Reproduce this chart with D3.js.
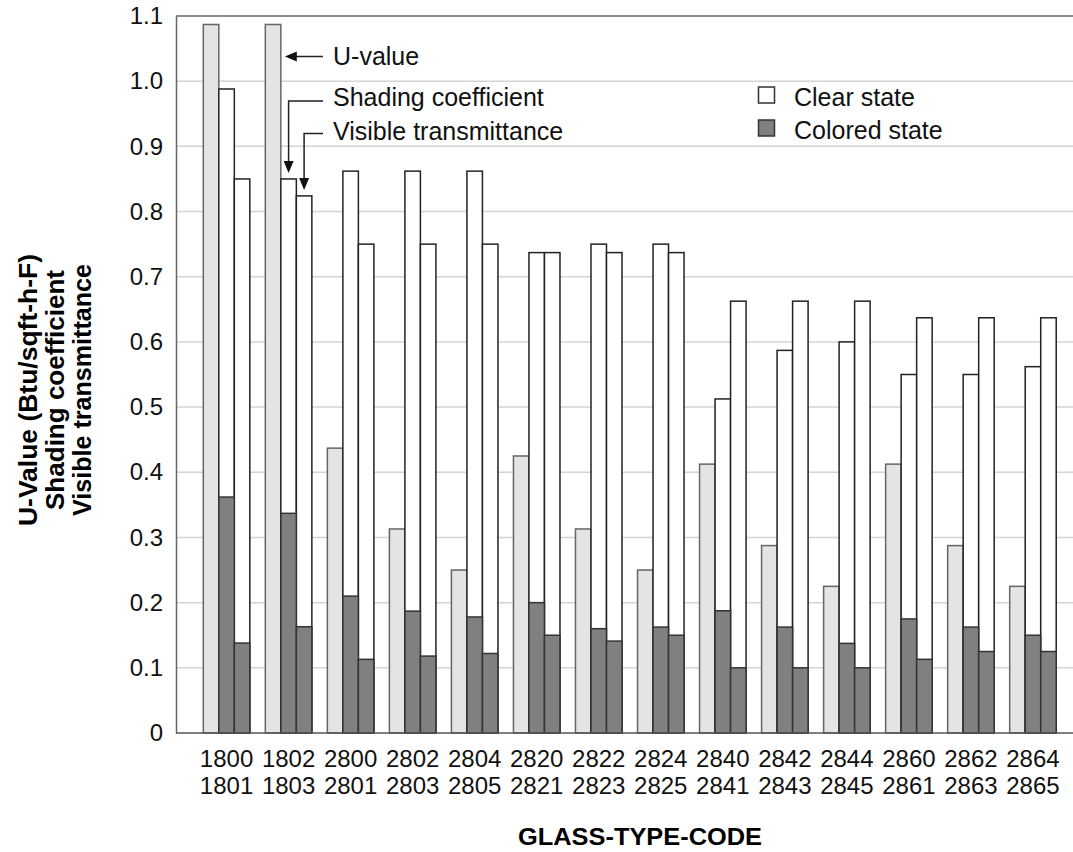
<!DOCTYPE html>
<html>
<head>
<meta charset="utf-8">
<script src="https://cdn.jsdelivr.net/npm/d3@7"></script>
<style>
  body { margin: 0; background: #fff; }
  svg { display: block; font-family: "Liberation Sans", Arial, sans-serif; }
</style>
</head>
<body>
<div id="chart"></div>
<script>
// glass type codes (two rows of tick labels)
var codesTop    = ["1800","1802","2800","2802","2804","2820","2822","2824","2840","2842","2844","2860","2862","2864"];
var codesBottom = ["1801","1803","2801","2803","2805","2821","2823","2825","2841","2843","2845","2861","2863","2865"];

// values
var uValue    = [1.087,1.087,0.437,0.313,0.25,0.425,0.313,0.25,0.4125,0.2875,0.225,0.4125,0.2875,0.225];
var scClear   = [0.988,0.85,0.862,0.862,0.862,0.737,0.75,0.75,0.5125,0.587,0.6,0.55,0.55,0.562];
var scColored = [0.362,0.337,0.21,0.187,0.178,0.2,0.16,0.1625,0.1875,0.1625,0.1375,0.175,0.1625,0.15];
var vtClear   = [0.85,0.824,0.75,0.75,0.75,0.737,0.737,0.737,0.6625,0.6625,0.6625,0.637,0.637,0.637];
var vtColored = [0.138,0.163,0.113,0.118,0.122,0.15,0.141,0.15,0.1,0.1,0.1,0.113,0.125,0.125];

var yTicks = [0,0.1,0.2,0.3,0.4,0.5,0.6,0.7,0.8,0.9,1.0,1.1];

//Define SVG
var W = 1073, H = 852;
var plot = {left: 176, top: 16, right: 1073, bottom: 733};

var svg = d3.select("#chart").append("svg")
    .attr("width", W)
    .attr("height", H);

//Define Scales
var yScale = d3.scaleLinear().domain([0, 1.1]).range([plot.bottom, plot.top]);

var xScale = d3.scaleBand()
    .domain(codesTop)
    .range([195.55, 195.55 + 14 * 62.03])
    .paddingInner(0.25)
    .paddingOuter(0.125);

var xSub = d3.scaleBand()
    .domain(["u", "sc", "vt"])
    .range([0, xScale.bandwidth()]);

// gridlines
svg.append("g").selectAll("line")
    .data(yTicks.filter(function(d) { return d > 0 && d < 1.1; }))
    .enter().append("line")
    .attr("x1", plot.left).attr("x2", plot.right)
    .attr("y1", function(d) { return yScale(d); })
    .attr("y2", function(d) { return yScale(d); })
    .attr("stroke", "#d4d4d4")
    .attr("stroke-width", 1.5);

// frame
svg.append("line")
    .attr("x1", plot.left).attr("x2", plot.right)
    .attr("y1", plot.top).attr("y2", plot.top)
    .attr("stroke", "#666").attr("stroke-width", 1.5);

//Y-axis
var yAxis = d3.axisLeft(yScale)
    .tickValues(yTicks)
    .tickSize(0)
    .tickPadding(13)
    .tickFormat(function(d) { return d === 0 ? "0" : d3.format(".1f")(d); });

var gy = svg.append("g")
    .attr("transform", "translate(" + plot.left + ",0)")
    .call(yAxis);
gy.select(".domain").attr("stroke", "#666").attr("stroke-width", 1.5);
gy.selectAll("text")
    .attr("font-size", "24px")
    .attr("font-family", "Liberation Sans, Arial, sans-serif")
    .attr("fill", "#111");

// bars
var rows = codesTop.map(function(c, i) {
    return {code: c, u: uValue[i], scC: scClear[i], scD: scColored[i], vtC: vtClear[i], vtD: vtColored[i]};
});

var groups = svg.append("g").selectAll("g")
    .data(rows)
    .enter().append("g")
    .attr("transform", function(d) { return "translate(" + xScale(d.code) + ",0)"; });

function bar(sel, key, value, fill, stroke) {
    sel.append("rect")
        .attr("x", xSub(key))
        .attr("width", xSub.bandwidth())
        .attr("y", function(d) { return yScale(value(d)); })
        .attr("height", function(d) { return yScale(0) - yScale(value(d)); })
        .attr("fill", fill)
        .attr("stroke", stroke)
        .attr("stroke-width", 1.5);
}

bar(groups, "u", function(d) { return d.u; }, "#e4e4e4", "#666");
bar(groups, "sc", function(d) { return d.scC; }, "#fff", "#222");
bar(groups, "vt", function(d) { return d.vtC; }, "#fff", "#222");
bar(groups, "sc", function(d) { return d.scD; }, "#808080", "#333");
bar(groups, "vt", function(d) { return d.vtD; }, "#808080", "#333");

// x axis line
svg.append("line")
    .attr("x1", plot.left).attr("x2", plot.right)
    .attr("y1", plot.bottom).attr("y2", plot.bottom)
    .attr("stroke", "#555").attr("stroke-width", 1.5);

// x tick labels, two rows
var xl = svg.append("g").selectAll("text")
    .data(codesTop)
    .enter().append("text")
    .attr("x", function(d) { return xScale(d) + xScale.bandwidth() / 2; })
    .attr("text-anchor", "middle")
    .attr("font-size", "24px")
    .attr("fill", "#111");
xl.append("tspan").attr("y", 767).text(function(d) { return d; });
xl.append("tspan")
    .attr("x", function(d) { return xScale(d) + xScale.bandwidth() / 2; })
    .attr("y", 794)
    .text(function(d, i) { return codesBottom[i]; });

// axis titles
svg.append("text")
    .attr("x", 640).attr("y", 845)
    .attr("text-anchor", "middle")
    .attr("font-family", "Liberation Sans Narrow, Arial Narrow, Liberation Sans, sans-serif")
    .attr("font-weight", "bold")
    .attr("font-size", "24px")
    .attr("textLength", 244)
    .attr("lengthAdjust", "spacingAndGlyphs")
    .text("GLASS-TYPE-CODE");

var yTitle = [
    {t: "U-Value (Btu/sqft-h-F)", x: 37, len: 272},
    {t: "Shading coefficient", x: 64, len: 240},
    {t: "Visible transmittance", x: 91, len: 252}
];
svg.append("g").selectAll("text")
    .data(yTitle)
    .enter().append("text")
    .attr("transform", function(d) { return "translate(" + d.x + ",390) rotate(-90)"; })
    .attr("text-anchor", "middle")
    .attr("font-family", "Liberation Sans Narrow, Arial Narrow, Liberation Sans, sans-serif")
    .attr("font-weight", "bold")
    .attr("font-size", "25px")
    .attr("textLength", function(d) { return d.len; })
    .attr("lengthAdjust", "spacingAndGlyphs")
    .text(function(d) { return d.t; });

// legend
var legend = [
    {label: "Clear state", fill: "#fff", y: 87},
    {label: "Colored state", fill: "#808080", y: 120}
];
var lg = svg.append("g").selectAll("g")
    .data(legend)
    .enter().append("g");
lg.append("rect")
    .attr("x", 758.5).attr("y", function(d) { return d.y; })
    .attr("width", 16).attr("height", 16)
    .attr("fill", function(d) { return d.fill; })
    .attr("stroke", "#333").attr("stroke-width", 1.5);
lg.append("text")
    .attr("x", 794).attr("y", function(d) { return d.y + 19; })
    .attr("font-size", "25px")
    .attr("fill", "#111")
    .text(function(d) { return d.label; });

// annotations pointing at the 1802/1803 group
var g2 = xScale("1802");
var uRight = g2 + xSub("u") + xSub.bandwidth();
var scMid = g2 + xSub("sc") + xSub.bandwidth() / 2;
var vtMid = g2 + xSub("vt") + xSub.bandwidth() / 2;
var lineEnd = 323;

var ann = svg.append("g").attr("stroke", "#222").attr("stroke-width", 1.5).attr("fill", "none");
ann.append("path").attr("d", "M" + lineEnd + ",56.5H" + (uRight + 14));
ann.append("path").attr("d", "M" + lineEnd + ",101H" + scMid + "V" + (yScale(0.85) - 18));
ann.append("path").attr("d", "M" + lineEnd + ",133.5H" + vtMid + "V" + (yScale(0.824) - 18));

var heads = svg.append("g").attr("fill", "#111");
heads.append("path").attr("d", "M" + (uRight + 4) + ",56.5l12,-5v10z");
heads.append("path").attr("d", "M" + scMid + "," + (yScale(0.85) - 6) + "l-5,-12h10z");
heads.append("path").attr("d", "M" + vtMid + "," + (yScale(0.824) - 6) + "l-5,-12h10z");

var annText = [
    {t: "U-value", y: 65},
    {t: "Shading coefficient", y: 106},
    {t: "Visible transmittance", y: 140}
];
svg.append("g").selectAll("text")
    .data(annText)
    .enter().append("text")
    .attr("x", 333).attr("y", function(d) { return d.y; })
    .attr("font-size", "25px")
    .attr("fill", "#111")
    .text(function(d) { return d.t; });
</script>
</body>
</html>
